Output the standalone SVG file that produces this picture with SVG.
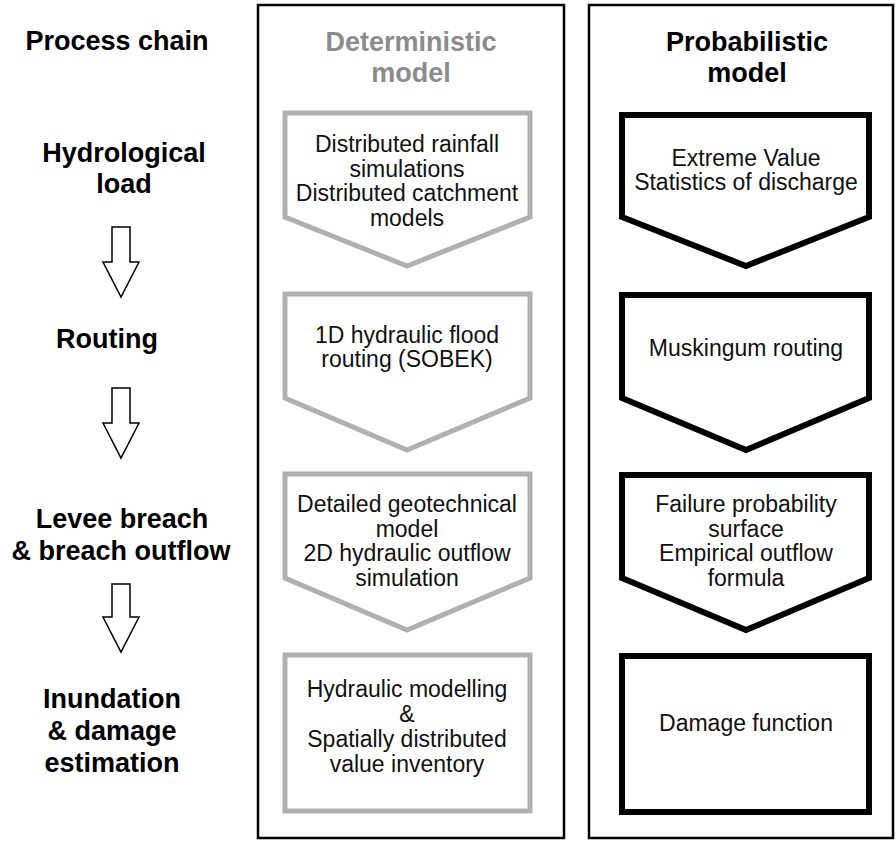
<svg xmlns="http://www.w3.org/2000/svg" width="896" height="841" viewBox="0 0 896 841">
<defs>
<style>
.panel{fill:none;stroke:#000;stroke-width:2.5}
.det{fill:#fff;stroke:#b0b0b0;stroke-width:5;stroke-linejoin:miter}
.prob{fill:#fff;stroke:#000;stroke-width:6;stroke-linejoin:miter}
.barrow{fill:#fff;stroke:#000;stroke-width:1.5;stroke-linejoin:miter}
.h{font-family:"Liberation Sans",Arial,sans-serif;font-weight:bold;font-size:27px;fill:#000;text-anchor:middle}
.hg{fill:#8c8c8c}
.t{font-family:"Liberation Sans",Arial,sans-serif;font-size:23px;fill:#111;text-anchor:middle}
</style>
</defs>
<rect width="896" height="841" fill="#fff"/>
<g id="panels">
<rect class="panel" x="258" y="5" width="306" height="833"/>
<rect class="panel" x="589" y="5" width="304" height="833"/>
</g>
<g id="process-chain">
<text class="h" x="117" y="50">Process chain</text>
<text class="h" x="124" y="162">Hydrological</text>
<text class="h" x="124" y="193">load</text>
<text class="h" x="107" y="348">Routing</text>
<text class="h" x="122" y="528">Levee breach</text>
<text class="h" x="121" y="560">&amp; breach outflow</text>
<text class="h" x="112" y="708">Inundation</text>
<text class="h" x="112" y="740">&amp; damage</text>
<text class="h" x="112" y="772">estimation</text>
</g>
<g id="connectors">
<polygon class="barrow" points="112,227 130,227 130,262 139,262 121,297 103,262 112,262"/>
<polygon class="barrow" points="112,388 130,388 130,423 139,423 121,458 103,423 112,423"/>
<polygon class="barrow" points="112,584 130,584 130,617 139,617 121,652 103,617 112,617"/>
</g>
<g id="det-title">
<text class="h hg" x="411" y="51">Deterministic</text>
<text class="h hg" x="411" y="82">model</text>
</g>
<g id="prob-title">
<text class="h" x="747" y="51">Probabilistic</text>
<text class="h" x="747" y="82">model</text>
</g>
<g id="det-1">
<polygon class="det" points="285,113 530,113 530,217 407,266 285,217"/>
<text class="t" x="407" y="152">Distributed rainfall</text>
<text class="t" x="407" y="177">simulations</text>
<text class="t" x="407" y="201">Distributed catchment</text>
<text class="t" x="407" y="226">models</text>
</g>
<g id="det-2">
<polygon class="det" points="285,294 530,294 530,398 407,450 285,398"/>
<text class="t" x="407" y="343">1D hydraulic flood</text>
<text class="t" x="407" y="367">routing (SOBEK)</text>
</g>
<g id="det-3">
<polygon class="det" points="285,474 530,474 530,578 407,630 285,578"/>
<text class="t" x="407" y="512">Detailed geotechnical</text>
<text class="t" x="407" y="537">model</text>
<text class="t" x="407" y="561">2D hydraulic outflow</text>
<text class="t" x="407" y="586">simulation</text>
</g>
<g id="det-4">
<rect class="det" x="285" y="655" width="245" height="156"/>
<text class="t" x="407" y="697">Hydraulic modelling</text>
<text class="t" x="407" y="722">&amp;</text>
<text class="t" x="407" y="747">Spatially distributed</text>
<text class="t" x="407" y="772">value inventory</text>
</g>
<g id="prob-1">
<polygon class="prob" points="622,115 869,115 869,217 746,266 622,217"/>
<text class="t" x="746" y="166">Extreme Value</text>
<text class="t" x="746" y="190">Statistics of discharge</text>
</g>
<g id="prob-2">
<polygon class="prob" points="622,295 869,295 869,398 746,450 622,398"/>
<text class="t" x="746" y="356">Muskingum routing</text>
</g>
<g id="prob-3">
<polygon class="prob" points="622,475 869,475 869,578 746,630 622,578"/>
<text class="t" x="746" y="512">Failure probability</text>
<text class="t" x="746" y="537">surface</text>
<text class="t" x="746" y="561">Empirical outflow</text>
<text class="t" x="746" y="586">formula</text>
</g>
<g id="prob-4">
<rect class="prob" x="622" y="656" width="247" height="156"/>
<text class="t" x="746" y="731">Damage function</text>
</g>
</svg>
